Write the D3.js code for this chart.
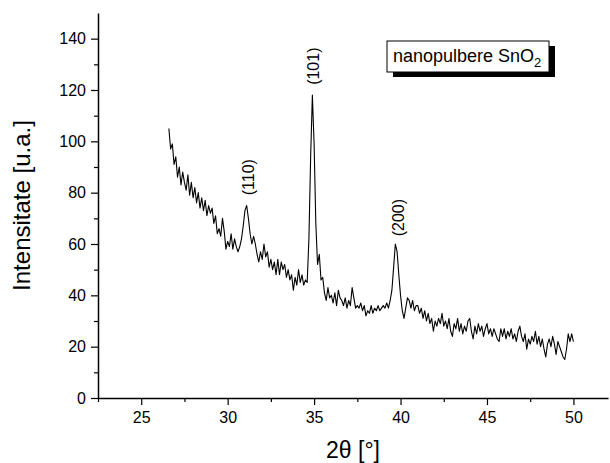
<!DOCTYPE html>
<html>
<head>
<meta charset="utf-8">
<script src="https://cdn.jsdelivr.net/npm/d3@7"></script>
<style>
  body { margin: 0; background: #fff; }
  svg { font-family: Arial, "Liberation Sans", sans-serif; }
</style>
</head>
<body>
<svg id="chart" width="610" height="463"></svg>
<script>
// 2theta positions (degrees)
var twoTheta = [
  26.6, 26.7, 26.8, 26.9,
  27.0, 27.1, 27.2, 27.3, 27.4, 27.5, 27.6, 27.7, 27.8, 27.9,
  28.0, 28.1, 28.2, 28.3, 28.4, 28.5, 28.6, 28.7, 28.8, 28.9,
  29.0, 29.1, 29.2, 29.3, 29.4, 29.5, 29.6, 29.7, 29.8, 29.9,
  30.0, 30.1, 30.2, 30.3, 30.4, 30.5, 30.6, 30.7, 30.8, 30.9,
  31.0, 31.1, 31.2, 31.3, 31.4, 31.5, 31.6, 31.7, 31.8, 31.9,
  32.0, 32.1, 32.2, 32.3, 32.4, 32.5, 32.6, 32.7, 32.8, 32.9,
  33.0, 33.1, 33.2, 33.3, 33.4, 33.5, 33.6, 33.7, 33.8, 33.9,
  34.0, 34.1, 34.2, 34.3, 34.4, 34.5, 34.6, 34.7, 34.8, 34.9,
  35.0, 35.1, 35.2, 35.3, 35.4, 35.5, 35.6, 35.7, 35.8, 35.9,
  36.0, 36.1, 36.2, 36.3, 36.4, 36.5, 36.6, 36.7, 36.8, 36.9,
  37.0, 37.1, 37.2, 37.3, 37.4, 37.5, 37.6, 37.7, 37.8, 37.9,
  38.0, 38.1, 38.2, 38.3, 38.4, 38.5, 38.6, 38.7, 38.8, 38.9,
  39.0, 39.1, 39.2, 39.3, 39.4, 39.5, 39.6, 39.7, 39.8, 39.9,
  40.0, 40.1, 40.2, 40.3, 40.4, 40.5, 40.6, 40.7, 40.8, 40.9,
  41.0, 41.1, 41.2, 41.3, 41.4, 41.5, 41.6, 41.7, 41.8, 41.9,
  42.0, 42.1, 42.2, 42.3, 42.4, 42.5, 42.6, 42.7, 42.8, 42.9,
  43.0, 43.1, 43.2, 43.3, 43.4, 43.5, 43.6, 43.7, 43.8, 43.9,
  44.0, 44.1, 44.2, 44.3, 44.4, 44.5, 44.6, 44.7, 44.8, 44.9,
  45.0, 45.1, 45.2, 45.3, 45.4, 45.5, 45.6, 45.7, 45.8, 45.9,
  46.0, 46.1, 46.2, 46.3, 46.4, 46.5, 46.6, 46.7, 46.8, 46.9,
  47.0, 47.1, 47.2, 47.3, 47.4, 47.5, 47.6, 47.7, 47.8, 47.9,
  48.0, 48.1, 48.2, 48.3, 48.4, 48.5, 48.6, 48.7, 48.8, 48.9,
  49.0, 49.1, 49.2, 49.3, 49.4, 49.5, 49.6, 49.7, 49.8, 49.9,
  50.0
];

// intensity (a.u.)
var intensity = [
  105, 97, 99, 91,
  94, 86, 90, 83, 88, 84, 81, 87, 79, 84,
  78, 82, 76, 80, 74, 78, 73, 77, 71, 75,
  72, 74, 68, 71, 64, 66, 63, 70, 65, 58,
  61, 59, 64, 58, 62, 59, 57, 59, 62, 67,
  73, 75, 70, 64, 60, 63, 60, 56, 53, 57,
  54, 60, 55, 57, 51, 54, 50, 53, 48, 54,
  48, 53, 50, 52, 47, 50, 46, 48, 42, 47,
  44, 50, 45, 48, 44, 46, 45, 62, 94, 118,
  99, 68, 52, 56, 46, 47, 41, 38, 43, 39,
  40, 37, 41, 36, 42, 39, 38, 36, 39, 35,
  38, 36, 43, 39, 35, 36, 35, 37, 34, 36,
  32, 34, 33, 36, 33, 35, 34, 36, 34, 35,
  36, 35, 37, 35, 38, 42, 51, 60, 57, 48,
  40, 34, 31, 35, 39, 38, 35, 38, 34, 36,
  36, 33, 35, 31, 34, 30, 33, 29, 31, 26,
  30, 28, 31, 29, 33, 28, 30, 27, 31, 26,
  24, 29, 27, 31, 26, 29, 25, 28, 26, 30,
  31, 26, 23, 28, 25, 29, 26, 28, 24, 27,
  29, 25, 27, 24, 27, 25, 23, 22, 27, 24,
  27, 23, 26, 24, 27, 23, 25, 22, 26, 28,
  24, 22, 25, 19, 23, 21, 24, 22, 26, 21,
  24, 20, 23, 19, 16, 21, 23, 20, 24, 21,
  17, 22, 20, 18, 16, 15, 19, 25, 22, 25,
  22
];

// peak labels (Miller indices) and where they sit
var peakLabels = ["(110)", "(101)", "(200)"];
var peakTheta = [31.2, 34.95, 39.9];
var peakLabelY = [79, 122, 63];

var xMajor = [25, 30, 35, 40, 45, 50];
var xMinor = [22.5, 27.5, 32.5, 37.5, 42.5, 47.5];
var yMajor = [0, 20, 40, 60, 80, 100, 120, 140];
var yMinor = [10, 30, 50, 70, 90, 110, 130];

var svg = d3.select("#chart");
var plotLeft = 98, plotRight = 608, plotTop = 13, plotBottom = 398;

var x = d3.scaleLinear().domain([22.5, 52]).range([plotLeft, plotRight]);
var y = d3.scaleLinear().domain([0, 150]).range([plotBottom, plotTop]);

// minor ticks first, then major axis on top
svg.append("g")
  .attr("transform", "translate(0," + plotBottom + ")")
  .call(d3.axisBottom(x).tickValues(xMinor).tickSize(4).tickSizeOuter(0).tickFormat(""))
  .call(function (g) { g.select(".domain").remove(); });
svg.append("g")
  .attr("transform", "translate(" + plotLeft + ",0)")
  .call(d3.axisLeft(y).tickValues(yMinor).tickSize(4).tickSizeOuter(0).tickFormat(""))
  .call(function (g) { g.select(".domain").remove(); });

svg.append("g")
  .attr("transform", "translate(0," + plotBottom + ")")
  .call(d3.axisBottom(x).tickValues(xMajor).tickSize(7).tickSizeOuter(0).tickPadding(7));
svg.append("g")
  .attr("transform", "translate(" + plotLeft + ",0)")
  .call(d3.axisLeft(y).tickValues(yMajor).tickSize(7).tickSizeOuter(0).tickPadding(5));

svg.selectAll(".tick line").attr("stroke", "#000").attr("stroke-width", 1.2);
svg.selectAll(".domain").attr("stroke", "#000").attr("stroke-width", 1.5);
svg.selectAll(".tick text")
  .attr("fill", "#000")
  .style("font-size", "16px")
  .style("font-family", "Arial, 'Liberation Sans', sans-serif");

// the scan
var pts = twoTheta.map(function (t, i) { return [t, intensity[i]]; });
var line = d3.line()
  .x(function (d) { return x(d[0]); })
  .y(function (d) { return y(d[1]); });
svg.append("path")
  .datum(pts)
  .attr("d", line)
  .attr("fill", "none")
  .attr("stroke", "#000")
  .attr("stroke-width", 1.1)
  .attr("stroke-linejoin", "round");

// peak labels, rotated
peakLabels.forEach(function (lab, i) {
  var px = x(peakTheta[i]), py = y(peakLabelY[i]);
  svg.append("text")
    .attr("transform", "translate(" + px + "," + py + ") rotate(-90)")
    .attr("dy", "0.35em")
    .attr("text-anchor", "start")
    .style("font-size", "16px")
    .text(lab);
});

// axis titles
svg.append("text")
  .attr("x", (plotLeft + plotRight) / 2)
  .attr("y", 458)
  .attr("text-anchor", "middle")
  .style("font-size", "23px")
  .html("2&#952; [&#176;]");

svg.append("text")
  .attr("transform", "translate(30," + ((plotTop + plotBottom) / 2) + ") rotate(-90)")
  .attr("text-anchor", "middle")
  .style("font-size", "24px")
  .text("Intensitate [u.a.]");

// legend box with drop shadow
var lg = svg.append("g");
lg.append("rect").attr("x", 393).attr("y", 46).attr("width", 162).attr("height", 31).attr("fill", "#000");
lg.append("rect").attr("x", 387).attr("y", 41).attr("width", 162).attr("height", 31)
  .attr("fill", "#fff").attr("stroke", "#000").attr("stroke-width", 1);
var lt = lg.append("text").attr("x", 393).attr("y", 62).style("font-size", "18px");
lt.append("tspan").text("nanopulbere SnO");
lt.append("tspan").attr("dy", 5).style("font-size", "13px").text("2");
</script>
</body>
</html>
